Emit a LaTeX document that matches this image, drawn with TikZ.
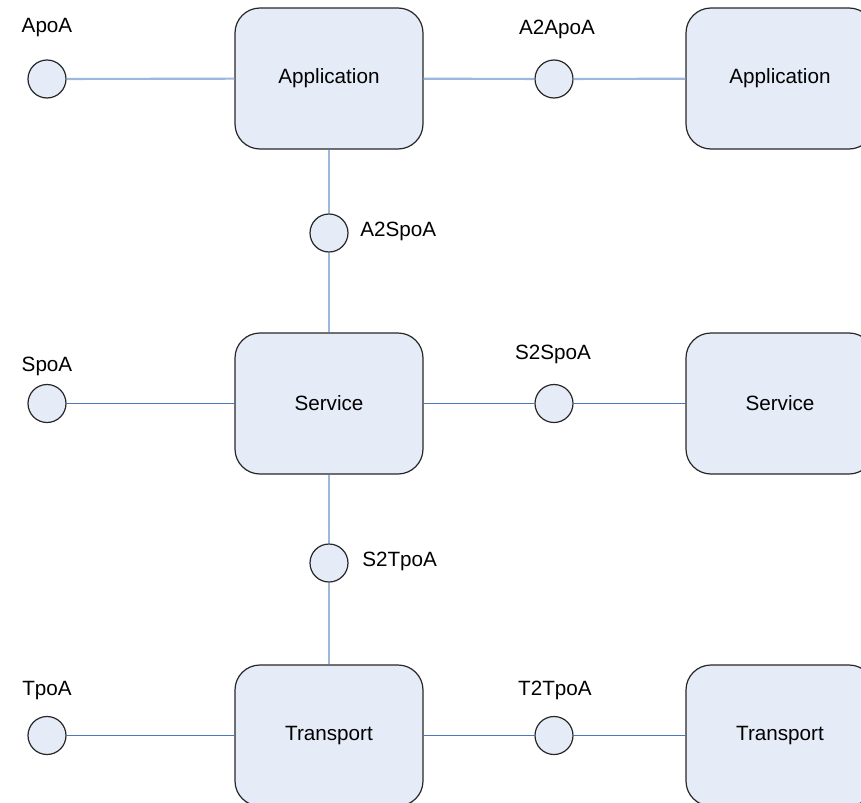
\documentclass[tikz,border=0pt]{standalone}
\usepackage{fontspec}
\setmainfont{Liberation Sans}
\begin{document}
\begin{tikzpicture}[x=0.75pt,y=-0.75pt,
  layerbox/.style={draw=black!85,fill=boxfill,rounded corners=25*0.75pt,line width=0.9pt,
    minimum width=188*0.75pt,minimum height=141*0.75pt,inner sep=0pt,font=\fontsize{15.5}{18}\selectfont},
  port/.style={circle,draw=black!85,fill=boxfill,line width=0.9pt,minimum size=38*0.75pt,inner sep=0pt},
  lbl/.style={anchor=base,inner sep=0pt,font=\fontsize{15.5}{18}\selectfont},
  lbll/.style={anchor=base west,inner sep=0pt,font=\fontsize{15.5}{18}\selectfont},
  softlink/.style={draw=softblue,line width=1.6pt},
  thinlink/.style={draw=deepblue,line width=1pt}]
\definecolor{boxfill}{HTML}{E6ECF7}
\definecolor{softblue}{HTML}{9DB8DE}
\definecolor{deepblue}{HTML}{4A78C0}
\useasboundingbox (0,0) rectangle (861,803);

% layer boxes
\node[layerbox] (app1) at (329,78.5) {Application};
\node[layerbox] (app2) at (780,78.5) {Application};
\node[layerbox] (svc1) at (329,403.5) {Service};
\node[layerbox] (svc2) at (780,403.5) {Service};
\node[layerbox] (trn1) at (329,735.5) {Transport};
\node[layerbox] (trn2) at (780,735.5) {Transport};

% points of attachment
\node[port] (apoa) at (47,79) {};
\node[port] (a2apoa) at (554,79) {};
\node[port] (a2spoa) at (329,233) {};
\node[port] (spoa) at (47,403.5) {};
\node[port] (s2spoa) at (554,403.5) {};
\node[port] (s2tpoa) at (329,563) {};
\node[port] (tpoa) at (47,735.5) {};
\node[port] (t2tpoa) at (554,735.5) {};

% connectors
\path[softlink] (apoa) -- (app1);
\path[softlink] (app1) -- (a2apoa);
\path[softlink] (a2apoa) -- (app2);
\path[softlink] (app1) -- (a2spoa);
\path[softlink] (a2spoa) -- (svc1);
\path[softlink] (svc1) -- (s2tpoa);
\path[softlink] (s2tpoa) -- (trn1);
\path[thinlink] (spoa) -- (svc1);
\path[thinlink] (svc1) -- (s2spoa);
\path[thinlink] (s2spoa) -- (svc2);
\path[thinlink] (tpoa) -- (trn1);
\path[thinlink] (trn1) -- (t2tpoa);
\path[thinlink] (t2tpoa) -- (trn2);

% labels
\node[lbl] (lapoa) at (47,32) {ApoA};
\node[lbl] (la2apoa) at (557,35) {A2ApoA};
\node[lbll] (la2spoa) at (360,236) {A2SpoA};
\node[lbl] (lspoa) at (47,371) {SpoA};
\node[lbl] (ls2spoa) at (553,359) {S2SpoA};
\node[lbll] (ls2tpoa) at (362,566) {S2TpoA};
\node[lbl] (ltpoa) at (47,695) {TpoA};
\node[lbl] (lt2tpoa) at (555,695) {T2TpoA};
\end{tikzpicture}
\end{document}
